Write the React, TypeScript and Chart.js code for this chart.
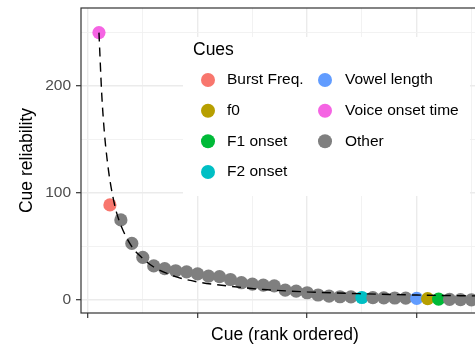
import React, { useEffect, useRef } from "react";
import { Chart, registerables } from "chart.js";

Chart.register(...registerables);

// ---- data ----
const ranks = [1, 2, 3, 4, 5, 6, 7, 8, 9, 10, 11, 12, 13, 14, 15, 16, 17, 18, 19, 20, 21, 22, 23, 24, 25, 26, 27, 28, 29, 30, 31, 32, 33, 34, 35, 36];
const reliability = [250, 89, 75, 53, 40, 32, 29.5, 27.5, 26.5, 24.5, 22.5, 22, 19.3, 16.3, 15, 14, 13.3, 9.3, 8.4, 6.9, 4.8, 3.8, 3.2, 3.0, 2.5, 2.3, 2.2, 2.0, 1.9, 1.6, 1.4, 1.0, 0.7, 0.5, 0.3, 0.2];
const cueOfRank = [
  "Voice onset time", "Burst Freq.", "Other", "Other", "Other", "Other", "Other", "Other", "Other", "Other",
  "Other", "Other", "Other", "Other", "Other", "Other", "Other", "Other", "Other", "Other",
  "Other", "Other", "Other", "Other", "F2 onset", "Other", "Other", "Other", "Other", "Vowel length",
  "f0", "F1 onset", "Other", "Other", "Other", "Other",
];
const legendCues = ["Burst Freq.", "f0", "F1 onset", "F2 onset", "Vowel length", "Voice onset time", "Other"];
const cueColors = ["#F8766D", "#B79F00", "#00BA38", "#00BFC4", "#619CFF", "#F564E3", "#7F7F7F"];

// dashed fitted curve
const fitRanks = [1, 1.25, 1.5, 1.75, 2, 2.5, 3, 4, 5, 6, 8, 10, 13, 16, 20, 25, 30, 36];
const fitValues = [250, 193, 156, 131, 112, 86, 70, 50, 39, 31, 22, 17, 13, 10, 7.7, 6, 4.8, 3.9];

const yTicks = [0, 50, 100, 150, 200, 250];
const yLabelled = [0, 100, 200];
const xTicks = [0, 5, 10, 15, 20, 25, 30, 35];
const xMajor = [0, 10, 20, 30];

const FONT = "'Liberation Sans', Arial, Helvetica, sans-serif";

const legendPlugin = {
  id: "cueLegend",
  afterDraw(chart: any) {
    const ctx = chart.ctx;
    ctx.save();
    ctx.fillStyle = "#FFFFFF";
    ctx.fillRect(183, 37, 287, 159);
    ctx.fillStyle = "#000000";
    ctx.textBaseline = "middle";
    ctx.textAlign = "left";
    ctx.font = `17.5px ${FONT}`;
    ctx.fillText("Cues", 193, 50);
    const rowY = [80, 110.7, 141.3, 172];
    ctx.font = `15.5px ${FONT}`;
    legendCues.forEach((name, i) => {
      const col = i < 4 ? 0 : 1;
      const row = i < 4 ? i : i - 4;
      const cx = col === 0 ? 208 : 325;
      const tx = col === 0 ? 227 : 345;
      const y = rowY[row];
      ctx.beginPath();
      ctx.arc(cx, y, 7, 0, Math.PI * 2);
      ctx.fillStyle = cueColors[i];
      ctx.fill();
      ctx.fillStyle = "#000000";
      ctx.fillText(name, tx, y);
    });
    ctx.restore();
  },
};

const borderPlugin = {
  id: "panelBorder",
  afterDatasetsDraw(chart: any) {
    const { ctx, chartArea } = chart;
    ctx.save();
    ctx.strokeStyle = "#333333";
    ctx.lineWidth = 1.2;
    ctx.strokeRect(chartArea.left, chartArea.top, chartArea.right - chartArea.left, chartArea.bottom - chartArea.top);
    ctx.restore();
  },
};

export default function App() {
  const ref = useRef<HTMLCanvasElement | null>(null);

  useEffect(() => {
    if (!ref.current) return;
    const pointData = ranks.map((r, i) => ({ x: r, y: reliability[i] }));
    const pointColors = ranks.map((_, i) => cueColors[legendCues.indexOf(cueOfRank[i])]);
    const fitData = fitRanks.map((r, i) => ({ x: r, y: fitValues[i] }));

    const chart = new Chart(ref.current, {
      type: "scatter",
      data: {
        datasets: [
          {
            label: "fit",
            data: fitData,
            showLine: true,
            borderColor: "#000000",
            borderWidth: 1.4,
            borderDash: [9, 6],
            pointRadius: 0,
            cubicInterpolationMode: "monotone",
            order: 0,
          } as any,
          {
            label: "cues",
            data: pointData,
            backgroundColor: pointColors,
            borderWidth: 0,
            pointRadius: 6.6,
            order: 1,
          },
        ],
      },
      options: {
        responsive: false,
        animation: false,
        devicePixelRatio: 1,
        layout: { padding: { top: 8, right: 8, left: 0, bottom: 0 } },
        plugins: { legend: { display: false }, tooltip: { enabled: false } },
        scales: {
          x: {
            type: "linear",
            min: -0.64,
            max: 36.6,
            afterBuildTicks: (s: any) => {
              s.ticks = xTicks.map((v) => ({ value: v }));
            },
            afterFit: (s: any) => {
              s.height = 31;
              s.paddingLeft = 0;
              s.paddingRight = 0;
            },
            ticks: { callback: () => "", autoSkip: false, padding: 0 },
            grid: {
              color: (c: any) => (xMajor.includes(c.tick?.value) ? "#EBEBEB" : "#F0F0F0"),
              lineWidth: (c: any) => (xMajor.includes(c.tick?.value) ? 1.4 : 0.9),
              tickColor: (c: any) => (xMajor.includes(c.tick?.value) ? "#333333" : "rgba(0,0,0,0)"),
              tickLength: 5,
              tickWidth: 1.2,
            },
            border: { display: false },
            title: {
              display: true,
              text: "Cue (rank ordered)",
              color: "#000000",
              font: { size: 17.5, family: FONT, lineHeight: 1 },
              padding: { top: 0, bottom: 0 },
            },
          },
          y: {
            type: "linear",
            min: -12,
            max: 273,
            afterBuildTicks: (s: any) => {
              s.ticks = yTicks.map((v) => ({ value: v }));
            },
            afterFit: (s: any) => {
              s.width = 81;
              s.paddingTop = 0;
              s.paddingBottom = 0;
            },
            ticks: {
              callback: (v: any) => (yLabelled.includes(v) ? String(v) : ""),
              autoSkip: false,
              color: "#4D4D4D",
              font: { size: 15.5, family: FONT },
              padding: 5,
            },
            grid: {
              color: (c: any) => (yLabelled.includes(c.tick?.value) ? "#EBEBEB" : "#F0F0F0"),
              lineWidth: (c: any) => (yLabelled.includes(c.tick?.value) ? 1.4 : 0.9),
              tickColor: (c: any) => (yLabelled.includes(c.tick?.value) ? "#333333" : "rgba(0,0,0,0)"),
              tickLength: 5,
              tickWidth: 1.2,
            },
            border: { display: false },
            title: {
              display: true,
              text: "Cue reliability",
              color: "#000000",
              font: { size: 17.5, family: FONT, lineHeight: 1 },
              padding: { top: 18.5, bottom: 0 },
            },
          },
        },
      },
      plugins: [borderPlugin, legendPlugin],
    });
    return () => chart.destroy();
  }, []);

  return (
    <div style={{ position: "fixed", left: 0, top: 0, width: 475, height: 344, overflow: "hidden", background: "#FFFFFF" }}>
      <canvas ref={ref} width={497} height={344} style={{ display: "block", width: 497, height: 344 }} />
    </div>
  );
}
